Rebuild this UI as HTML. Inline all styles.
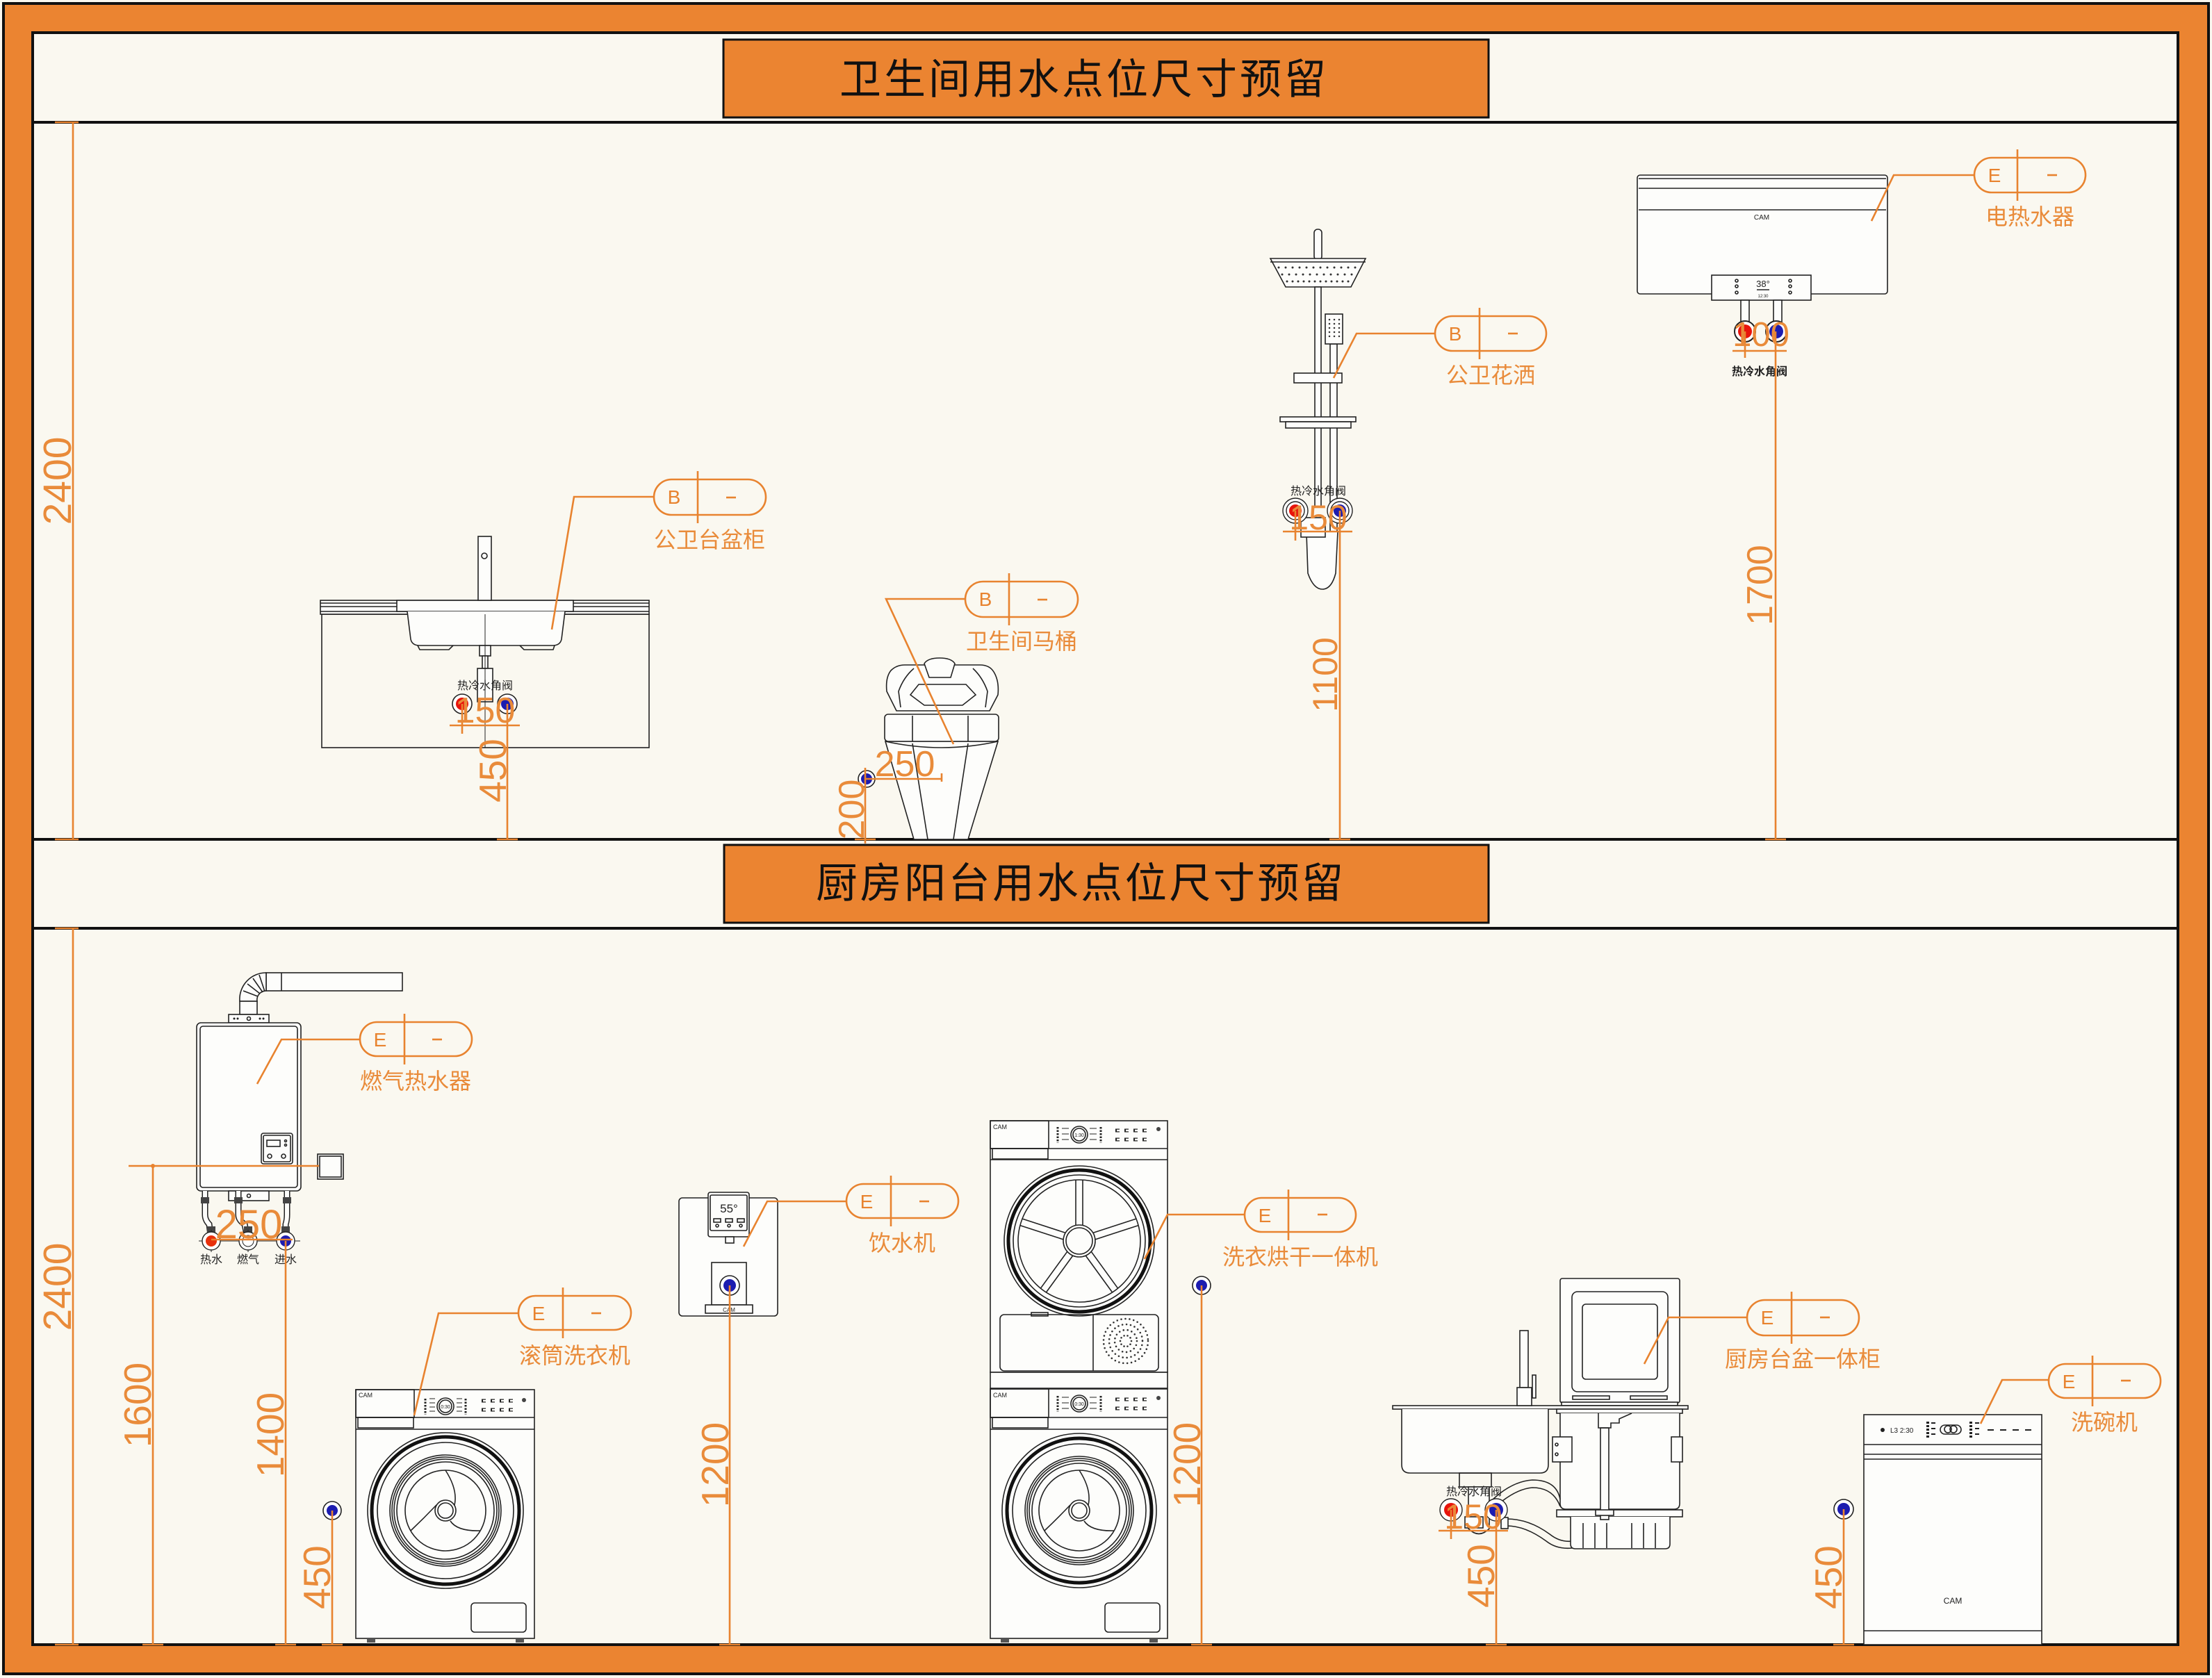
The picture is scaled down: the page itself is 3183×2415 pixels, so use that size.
<!DOCTYPE html>
<html><head><meta charset="utf-8">
<style>
html,body{margin:0;padding:0;background:#faf8f0;}
svg{display:block;}
</style></head>
<body>
<svg xmlns="http://www.w3.org/2000/svg" width="3183" height="2415" viewBox="0 0 3183 2415">
<defs>
<style>
.o{stroke:#E8832F;stroke-width:2.6;fill:none}
.k{stroke:#222;stroke-width:1.6;fill:none}
.kw{stroke:#222;stroke-width:1.6;fill:#fdfdfb}
.d{font-family:"Liberation Sans",sans-serif;fill:#E98B3A}
.l{font-family:"Liberation Sans","Noto Sans CJK SC",sans-serif;fill:#E98B3A;font-size:32px}
.t{font-family:"Liberation Sans","Noto Sans CJK SC",sans-serif;fill:#111;font-size:60px}
.s{font-family:"Liberation Sans","Noto Sans CJK SC",sans-serif;fill:#222;font-size:16px}
.tg{font-family:"Liberation Sans",sans-serif;fill:#E8832F;font-size:28px}
.c{font-family:"Liberation Sans",sans-serif;fill:#222}
</style>
</defs>

<!-- frame -->
<rect x="0" y="0" width="3183" height="2415" fill="#faf8f0"/>
<rect x="5" y="5" width="3173" height="2404" fill="#EB8431" stroke="#111" stroke-width="4"/>
<rect x="47" y="47" width="3087" height="2320" fill="#FAF8F0" stroke="#111" stroke-width="4"/>
<line x1="47" y1="176" x2="3134" y2="176" stroke="#111" stroke-width="4"/>
<line x1="47" y1="1208" x2="3134" y2="1208" stroke="#111" stroke-width="4"/>
<line x1="47" y1="1336" x2="3134" y2="1336" stroke="#111" stroke-width="4"/>

<!-- titles -->
<rect x="1041" y="57" width="1101" height="112" fill="#EB8431" stroke="#111" stroke-width="3"/>
<text class="t" x="1208" y="135" textLength="700" lengthAdjust="spacing">卫生间用水点位尺寸预留</text>
<rect x="1042" y="1216" width="1100" height="112" fill="#EB8431" stroke="#111" stroke-width="3"/>
<text class="t" x="1174" y="1292" textLength="759" lengthAdjust="spacing">厨房阳台用水点位尺寸预留</text>

<!-- 2400 dims -->
<line class="o" x1="105" y1="176" x2="105" y2="1208"/>
<line class="o" x1="79" y1="176" x2="113" y2="176"/>
<line class="o" x1="79" y1="1208" x2="113" y2="1208"/>
<text class="d" font-size="57" text-anchor="middle" transform="translate(102,692) rotate(-90)">2400</text>
<line class="o" x1="105" y1="1336" x2="105" y2="2367"/>
<line class="o" x1="79" y1="1336" x2="113" y2="1336"/>
<line class="o" x1="79" y1="2367" x2="113" y2="2367"/>
<text class="d" font-size="57" text-anchor="middle" transform="translate(102,1852) rotate(-90)">2400</text>

<!-- ================= SECTION 1 ================= -->

<!-- Washbasin cabinet -->
<g>
<rect class="k" x="463" y="884" width="471" height="192"/>
<rect class="kw" x="461" y="864" width="473" height="20"/>
<line class="k" x1="461" y1="868" x2="934" y2="868"/>
<line class="k" x1="461" y1="873" x2="934" y2="873"/>
<line class="k" x1="461" y1="880" x2="934" y2="880"/>
<rect class="kw" x="571" y="864" width="254" height="16"/>
<path class="kw" d="M586,880 L591,920 Q593,929 604,929 L795,929 Q806,929 808,920 L813,880"/>
<path class="k" d="M601,929 L604,935 L646,935 L652,929 M748,929 L754,935 L796,935 L798,929"/>
<rect class="kw" x="688" y="772" width="19" height="92"/>
<circle class="k" cx="697" cy="800" r="4"/>
<rect class="kw" x="690" y="929" width="16" height="15"/>
<rect class="kw" x="694" y="944" width="8" height="18"/>
<rect class="kw" x="687" y="962" width="22" height="48"/>
<line x1="698" y1="884" x2="698" y2="1076" stroke="#222" stroke-width="1"/>
<text class="s" x="698" y="992" text-anchor="middle" font-size="16">热冷水角阀</text>
<circle cx="665" cy="1013" r="14" fill="#fff" stroke="#222" stroke-width="1.6"/><circle cx="665" cy="1013" r="9" fill="#E8140C"/>
<circle cx="730" cy="1013" r="14" fill="#fff" stroke="#222" stroke-width="1.6"/><circle cx="730" cy="1013" r="9" fill="#1C1CB0"/>
</g>
<line class="o" x1="647" y1="1044" x2="748" y2="1044"/>
<line class="o" x1="665" y1="1013" x2="665" y2="1056"/>
<line class="o" x1="730" y1="1013" x2="730" y2="1208"/>
<text class="d" font-size="52" x="698" y="1040" text-anchor="middle">150</text>
<text class="d" font-size="55" text-anchor="middle" transform="translate(728,1109) rotate(-90)">450</text>

<!-- Toilet -->
<g>
<path class="kw" d="M1274,1067 L1315,1208 L1393,1208 L1436,1067 Z"/>
<path class="k" d="M1313,1070 L1335,1208 M1393,1070 L1372,1208"/>
<path class="k" d="M1274,1067 Q1355,1085 1436,1067"/>
<rect class="kw" x="1273" y="1028" width="164" height="39" rx="5"/>
<path class="k" d="M1313,1030 L1313,1067 M1393,1030 L1393,1067"/>
<path class="kw" d="M1290,1023 L1276,995 Q1274,975 1282,965 Q1290,957 1302,957 L1410,957 Q1424,957 1430,967 Q1438,980 1436,1000 L1424,1023 Z"/>
<path class="k" d="M1296,1018 L1293,995 Q1300,975 1315,962 M1418,1018 L1421,995 Q1414,975 1400,962"/>
<path class="k" d="M1310,1000 L1322,985 L1390,985 L1404,1000 L1385,1015 L1330,1015 Z"/>
<path class="kw" d="M1330,955 Q1335,947 1352,947 Q1369,947 1374,955 L1368,975 L1337,975 Z"/>
<circle cx="1247" cy="1121" r="12" fill="#fff" stroke="#222" stroke-width="1.6"/><circle cx="1247" cy="1121" r="8" fill="#1C1CB0"/>
</g>
<line class="o" x1="1245" y1="1121" x2="1355" y2="1121"/>
<line class="o" x1="1355" y1="1113" x2="1355" y2="1125"/>
<line class="o" x1="1245" y1="1105" x2="1245" y2="1214"/>
<text class="d" font-size="52" x="1302" y="1117" text-anchor="middle">250</text>
<text class="d" font-size="52" text-anchor="middle" transform="translate(1243,1165) rotate(-90)">200</text>

<!-- Shower -->
<g>
<rect class="kw" x="1891" y="330" width="11" height="44" rx="5"/>
<path class="kw" d="M1828,372 L1965,372 L1944,413 L1850,413 Z"/>
<line class="k" x1="1828" y1="377" x2="1965" y2="377"/>
<line x1="1840" y1="385" x2="1955" y2="385" stroke="#333" stroke-width="3" stroke-linecap="round" stroke-dasharray="0 10"/>
<line x1="1845" y1="395" x2="1950" y2="395" stroke="#333" stroke-width="3" stroke-linecap="round" stroke-dasharray="0 10"/>
<line x1="1852" y1="405" x2="1943" y2="405" stroke="#333" stroke-width="3" stroke-linecap="round" stroke-dasharray="0 8"/>
<rect class="kw" x="1892" y="413" width="9" height="317"/>
<rect class="kw" x="1914" y="495" width="10" height="270"/>
<rect class="kw" x="1907" y="452" width="25" height="43"/>
<line x1="1913" y1="460" x2="1913" y2="488" stroke="#333" stroke-width="2.5" stroke-linecap="round" stroke-dasharray="0 6"/>
<line x1="1920" y1="460" x2="1920" y2="488" stroke="#333" stroke-width="2.5" stroke-linecap="round" stroke-dasharray="0 6"/>
<line x1="1927" y1="460" x2="1927" y2="488" stroke="#333" stroke-width="2.5" stroke-linecap="round" stroke-dasharray="0 6"/>
<rect class="kw" x="1862" y="537" width="69" height="14"/>
<rect class="kw" x="1842" y="600" width="109" height="7"/>
<rect class="kw" x="1850" y="607" width="94" height="9"/>
<path class="kw" d="M1880,768 L1882,825 Q1890,848 1903,848 Q1916,848 1922,825 L1925,765"/>
<rect class="kw" x="1872" y="745" width="35" height="28"/>
<text class="s" x="1897" y="712" text-anchor="middle" font-size="16" fill="#444">热冷水角阀</text>
<circle cx="1864" cy="735" r="18" fill="#fff" stroke="#222" stroke-width="1.4"/><circle cx="1864" cy="735" r="13" fill="#fff" stroke="#222" stroke-width="1.4"/><circle cx="1864" cy="735" r="9" fill="#E8140C"/>
<circle cx="1928" cy="735" r="18" fill="#fff" stroke="#222" stroke-width="1.4"/><circle cx="1928" cy="735" r="13" fill="#fff" stroke="#222" stroke-width="1.4"/><circle cx="1928" cy="735" r="9" fill="#1C1CB0"/>
</g>
<line class="o" x1="1846" y1="765" x2="1946" y2="765"/>
<line class="o" x1="1864" y1="735" x2="1864" y2="778"/>
<line class="o" x1="1928" y1="735" x2="1928" y2="1208"/>
<text class="d" font-size="50" x="1897" y="762" text-anchor="middle">150</text>
<text class="d" font-size="50" text-anchor="middle" transform="translate(1924,971) rotate(-90)">1100</text>

<!-- Electric water heater -->
<g>
<rect class="kw" x="2356" y="252" width="360" height="171" rx="4"/>
<line class="k" x1="2358" y1="257" x2="2714" y2="257"/>
<line class="k" x1="2358" y1="271" x2="2714" y2="271"/>
<line class="k" x1="2358" y1="302" x2="2714" y2="302"/>
<text class="c" x="2535" y="316" font-size="10" text-anchor="middle">CAM</text>
<rect class="kw" x="2463" y="396" width="143" height="36"/>
<text class="c" x="2537" y="413" font-size="13" text-anchor="middle">38°</text>
<line class="k" x1="2528" y1="417" x2="2546" y2="417" stroke-width="1"/>
<text class="c" x="2537" y="428" font-size="6" text-anchor="middle">12:30</text>
<circle class="k" cx="2499" cy="404" r="2" stroke-width="1"/><circle class="k" cx="2499" cy="412" r="2" stroke-width="1"/><circle class="k" cx="2499" cy="421" r="2" stroke-width="1"/>
<circle class="k" cx="2576" cy="404" r="2" stroke-width="1"/><circle class="k" cx="2576" cy="412" r="2" stroke-width="1"/><circle class="k" cx="2576" cy="421" r="2" stroke-width="1"/>
<rect class="kw" x="2505" y="432" width="12" height="35"/>
<rect class="kw" x="2552" y="432" width="12" height="35"/>
<circle cx="2511" cy="477" r="15" fill="#fff" stroke="#222" stroke-width="2"/><circle cx="2511" cy="477" r="10" fill="#E8140C"/>
<circle cx="2556" cy="477" r="15" fill="#fff" stroke="#222" stroke-width="2"/><circle cx="2556" cy="477" r="10" fill="#1C1CB0"/>
<text class="s" x="2532" y="540" text-anchor="middle" font-size="16" font-weight="bold" fill="#111">热冷水角阀</text>
</g>
<line class="o" x1="2493" y1="505" x2="2571" y2="505"/>
<line class="o" x1="2511" y1="477" x2="2511" y2="515"/>
<line class="o" x1="2555" y1="477" x2="2555" y2="1208"/>
<text class="d" font-size="49" x="2534" y="498" text-anchor="middle">100</text>
<text class="d" font-size="52" text-anchor="middle" transform="translate(2550,842) rotate(-90)">1700</text>

<!-- ================= SECTION 2 ================= -->

<!-- Gas water heater -->
<g>
<rect class="kw" x="383" y="1400" width="196" height="26"/>
<line class="k" x1="405" y1="1400" x2="405" y2="1426"/>
<path class="kw" d="M345,1441 A38,38 0 0 1 383,1400 L383,1426 A13,13 0 0 0 370,1441 Z"/>
<path class="k" stroke-width="1" d="M350,1426 L371,1434 M356,1416 L374,1430 M364,1408 L378,1428 M373,1403 L381,1427"/>
<rect class="kw" x="345" y="1441" width="25" height="19"/>
<rect class="kw" x="329" y="1460" width="58" height="12"/>
<circle cx="337" cy="1466" r="1.5" fill="#222"/><circle cx="342" cy="1466" r="1.5" fill="#222"/><circle cx="358" cy="1466" r="2.5" class="k" stroke-width="1"/><circle cx="374" cy="1466" r="1.5" fill="#222"/><circle cx="379" cy="1466" r="1.5" fill="#222"/>
<rect class="kw" x="283" y="1472" width="150" height="242" rx="6"/>
<rect class="k" x="288" y="1477" width="140" height="232" rx="4"/>
<rect class="kw" x="376" y="1631" width="45" height="44" rx="3"/>
<rect class="k" x="379" y="1634" width="39" height="38" rx="2"/>
<rect class="k" x="384" y="1641" width="19" height="9" stroke-width="1"/>
<circle class="k" cx="411" cy="1642" r="1.5" stroke-width="1"/><circle class="k" cx="411" cy="1648" r="1.5" stroke-width="1"/>
<circle class="k" cx="388" cy="1664" r="3" stroke-width="1"/><circle class="k" cx="408" cy="1664" r="3" stroke-width="1"/>
<rect class="kw" x="457" y="1661" width="37" height="36"/>
<rect class="k" x="460" y="1664" width="31" height="30" stroke-width="1"/>
<rect class="kw" x="329" y="1714" width="58" height="14"/>
<circle cx="358" cy="1721" r="2.5" class="k" stroke-width="1"/>
<path d="M295,1714 L295,1748 Q295,1756 301,1762 L304,1786" stroke="#222" stroke-width="9" fill="none"/>
<path d="M295,1714 L295,1748 Q295,1756 301,1762 L304,1786" stroke="#fdfdfb" stroke-width="6" fill="none"/>
<path d="M343,1714 L343,1748 Q343,1756 352,1762 L357,1786" stroke="#222" stroke-width="9" fill="none"/>
<path d="M343,1714 L343,1748 Q343,1756 352,1762 L357,1786" stroke="#fdfdfb" stroke-width="6" fill="none"/>
<path d="M413,1714 L413,1748 Q413,1756 411,1762 L411,1786" stroke="#222" stroke-width="9" fill="none"/>
<path d="M413,1714 L413,1748 Q413,1756 411,1762 L411,1786" stroke="#fdfdfb" stroke-width="6" fill="none"/>
<rect x="289" y="1723" width="12" height="9" fill="#444"/><rect x="337" y="1723" width="12" height="9" fill="#444"/><rect x="407" y="1723" width="12" height="9" fill="#444"/>
<rect x="298" y="1765" width="12" height="9" fill="#444"/><rect x="351" y="1765" width="12" height="9" fill="#444"/><rect x="405" y="1765" width="12" height="9" fill="#444"/>
<line x1="286" y1="1786" x2="432" y2="1786" stroke="#222" stroke-width="1"/>
<line x1="304" y1="1770" x2="304" y2="1802" stroke="#222" stroke-width="1"/>
<line x1="357" y1="1770" x2="357" y2="1802" stroke="#222" stroke-width="1"/>
<circle cx="304" cy="1786" r="13" fill="#fff" stroke="#222" stroke-width="1.4"/><circle cx="304" cy="1786" r="8" fill="#E8300C"/>
<circle cx="357" cy="1786" r="13" fill="#fff" stroke="#222" stroke-width="1.4"/><circle cx="357" cy="1786" r="8" fill="#fff" stroke="#222" stroke-width="1"/>
<circle cx="411" cy="1786" r="13" fill="#fff" stroke="#222" stroke-width="1.4"/><circle cx="411" cy="1786" r="8" fill="#1C1CB0"/>
<text class="s" x="304" y="1818" text-anchor="middle" font-size="17">热水</text>
<text class="s" x="357" y="1818" text-anchor="middle" font-size="17">燃气</text>
<text class="s" x="411" y="1818" text-anchor="middle" font-size="17">进水</text>
</g>
<line class="o" x1="185" y1="1678" x2="459" y2="1678"/>
<circle cx="220" cy="1678" r="3" fill="#E8832F"/>
<line class="o" x1="220" y1="1678" x2="220" y2="2367"/>
<text class="d" font-size="55" text-anchor="middle" transform="translate(217,2022) rotate(-90)">1600</text>
<line class="o" x1="304" y1="1784" x2="421" y2="1784"/>
<line class="o" x1="411" y1="1786" x2="411" y2="2367"/>
<text class="d" font-size="58" x="358" y="1782" text-anchor="middle">250</text>
<text class="d" font-size="55" text-anchor="middle" transform="translate(408,2065) rotate(-90)">1400</text>

<!-- Front-load washer (left) -->
<g>
<rect class="kw" x="512" y="2000" width="257" height="358"/>
<line class="k" x1="512" y1="2040" x2="769" y2="2040"/>
<line class="k" x1="512" y1="2057" x2="769" y2="2057"/>
<rect class="k" x="512" y="2000" width="84" height="40"/>
<rect class="k" x="515" y="2040" width="80" height="15"/>
<text class="c" x="516" y="2011" font-size="9">CAM</text>
<circle class="kw" cx="641" cy="2024" r="12"/><circle class="k" cx="641" cy="2024" r="9" stroke-width="1"/>
<text class="c" x="641" y="2027" font-size="7" text-anchor="middle">0:30</text>
<line x1="612" y1="2013" x2="612" y2="2036" stroke="#222" stroke-width="3" stroke-dasharray="2.5 2"/>
<line x1="618" y1="2013" x2="626" y2="2013" stroke="#222" stroke-width="1"/><line x1="618" y1="2019" x2="626" y2="2019" stroke="#222" stroke-width="1"/><line x1="618" y1="2025" x2="626" y2="2025" stroke="#222" stroke-width="1"/><line x1="618" y1="2031" x2="626" y2="2031" stroke="#222" stroke-width="1"/>
<line x1="670" y1="2013" x2="670" y2="2036" stroke="#222" stroke-width="3" stroke-dasharray="2.5 2"/>
<line x1="657" y1="2013" x2="665" y2="2013" stroke="#222" stroke-width="1"/><line x1="657" y1="2019" x2="665" y2="2019" stroke="#222" stroke-width="1"/><line x1="657" y1="2025" x2="665" y2="2025" stroke="#222" stroke-width="1"/><line x1="657" y1="2031" x2="665" y2="2031" stroke="#222" stroke-width="1"/>
<line x1="693" y1="2016" x2="743" y2="2016" stroke="#222" stroke-width="5" stroke-dasharray="6 7"/>
<line x1="693" y1="2029" x2="743" y2="2029" stroke="#222" stroke-width="5" stroke-dasharray="6 7"/>
<line x1="694" y1="2016" x2="742" y2="2016" stroke="#fdfdfb" stroke-width="2.5" stroke-dasharray="4 9" stroke-dashoffset="-1"/>
<line x1="694" y1="2029" x2="742" y2="2029" stroke="#fdfdfb" stroke-width="2.5" stroke-dasharray="4 9" stroke-dashoffset="-1"/>
<circle cx="754" cy="2015" r="3" fill="#444"/>
<circle class="k" cx="641" cy="2174" r="112" stroke-width="1.2"/>
<circle cx="641" cy="2174" r="106" fill="none" stroke="#111" stroke-width="5"/>
<circle class="k" cx="641" cy="2174" r="98" stroke-width="1"/>
<circle class="k" cx="641" cy="2174" r="80"/>
<circle class="k" cx="641" cy="2174" r="77" stroke-width="1"/>
<circle class="k" cx="641" cy="2174" r="74" stroke-width="1"/>
<circle class="k" cx="641" cy="2174" r="70" stroke-width="1"/>
<circle class="k" cx="641" cy="2174" r="58"/>
<circle class="k" cx="641" cy="2174" r="15"/>
<circle class="k" cx="641" cy="2174" r="11" stroke-width="1"/>
<path class="k" stroke-width="1.2" d="M641,2116 Q659,2144 654,2166 M691,2203 Q658,2204 648,2189 M591,2203 Q610,2185 628,2166"/>
<rect class="k" x="678" y="2307" width="79" height="42" rx="5"/>
<rect x="528" y="2358" width="12" height="6" fill="#555"/><rect x="742" y="2358" width="12" height="6" fill="#555"/>
<circle cx="478" cy="2174" r="13" fill="#fff" stroke="#222" stroke-width="1.6"/><circle cx="478" cy="2174" r="8" fill="#1C1CB0"/>
</g>
<line class="o" x1="478" y1="2174" x2="478" y2="2367"/>
<text class="d" font-size="55" text-anchor="middle" transform="translate(475,2270) rotate(-90)">450</text>

<!-- Water dispenser -->
<g>
<rect class="kw" x="977" y="1724" width="142" height="170" rx="5"/>
<rect class="kw" x="1019" y="1716" width="59" height="64" rx="3"/>
<rect class="k" x="1022" y="1720" width="53" height="51" rx="2" stroke-width="1"/>
<text class="c" x="1049" y="1745" font-size="17" text-anchor="middle">55°</text>
<rect class="k" x="1027" y="1754" width="10" height="5" stroke-width="1"/><rect class="k" x="1044" y="1754" width="10" height="5" stroke-width="1"/><rect class="k" x="1061" y="1754" width="10" height="5" stroke-width="1"/>
<circle class="k" cx="1032" cy="1764" r="2" stroke-width="1"/><circle class="k" cx="1049" cy="1764" r="2" stroke-width="1"/><circle class="k" cx="1066" cy="1764" r="2" stroke-width="1"/>
<rect class="kw" x="1044" y="1780" width="12" height="9"/>
<rect class="k" x="1024" y="1817" width="50" height="61"/>
<rect class="kw" x="1015" y="1878" width="68" height="12"/>
<text class="c" x="1049" y="1888" font-size="8" text-anchor="middle">CAM</text>
<circle cx="1050" cy="1850" r="14" fill="#fff" stroke="#222" stroke-width="1.6"/><circle cx="1050" cy="1850" r="9" fill="#1C1CB0"/>
</g>
<line class="o" x1="1050" y1="1850" x2="1050" y2="2367"/>
<text class="d" font-size="55" text-anchor="middle" transform="translate(1048,2108) rotate(-90)">1200</text>

<!-- Washer-dryer stack -->
<g>
<!-- upper dryer -->
<rect class="kw" x="1425" y="1613" width="255" height="362"/>
<line class="k" x1="1425" y1="1653" x2="1680" y2="1653"/>
<line class="k" x1="1425" y1="1669" x2="1680" y2="1669"/>
<rect class="k" x="1425" y="1613" width="84" height="40"/>
<rect class="k" x="1428" y="1653" width="80" height="15"/>
<text class="c" x="1429" y="1625" font-size="9">CAM</text>
<circle class="kw" cx="1553" cy="1633" r="12"/><circle class="k" cx="1553" cy="1633" r="9" stroke-width="1"/>
<text class="c" x="1553" y="1636" font-size="7" text-anchor="middle">1:30</text>
<line x1="1522" y1="1622" x2="1522" y2="1645" stroke="#222" stroke-width="3" stroke-dasharray="2.5 2"/>
<line x1="1584" y1="1622" x2="1584" y2="1645" stroke="#222" stroke-width="3" stroke-dasharray="2.5 2"/>
<line x1="1528" y1="1624" x2="1538" y2="1624" stroke="#222"/><line x1="1528" y1="1632" x2="1538" y2="1632" stroke="#222"/><line x1="1528" y1="1640" x2="1538" y2="1640" stroke="#222"/>
<line x1="1568" y1="1624" x2="1578" y2="1624" stroke="#222"/><line x1="1568" y1="1632" x2="1578" y2="1632" stroke="#222"/><line x1="1568" y1="1640" x2="1578" y2="1640" stroke="#222"/>
<line x1="1605" y1="1627" x2="1655" y2="1627" stroke="#222" stroke-width="5" stroke-dasharray="6 7"/>
<line x1="1605" y1="1640" x2="1655" y2="1640" stroke="#222" stroke-width="5" stroke-dasharray="6 7"/>
<line x1="1606" y1="1627" x2="1654" y2="1627" stroke="#fdfdfb" stroke-width="2.5" stroke-dasharray="4 9" stroke-dashoffset="-1"/>
<line x1="1606" y1="1640" x2="1654" y2="1640" stroke="#fdfdfb" stroke-width="2.5" stroke-dasharray="4 9" stroke-dashoffset="-1"/>
<circle cx="1667" cy="1625" r="3" fill="#444"/>
<circle class="k" cx="1553" cy="1786" r="108" stroke-width="1.2"/>
<circle cx="1553" cy="1786" r="102" fill="none" stroke="#111" stroke-width="5"/>
<circle class="k" cx="1553" cy="1786" r="95" stroke-width="1"/>
<circle class="k" cx="1553" cy="1786" r="88" stroke-width="1.2"/>
<circle class="k" cx="1553" cy="1786" r="23"/>
<circle class="k" cx="1553" cy="1786" r="19" stroke-width="1"/>
<path class="k" stroke-width="1.2" d="M1548,1763 L1548,1698 M1558,1763 L1558,1698 M1576.4,1783.7 L1638.2,1763.6 M1573.4,1774.1 L1635.2,1754 M1562.5,1807.5 L1600.7,1860.1 M1570.5,1801.7 L1608.7,1854.3 M1535.5,1801.7 L1497.3,1854.3 M1543.5,1807.5 L1505.3,1860.1 M1532.6,1774.1 L1470.8,1754 M1529.6,1783.7 L1467.8,1763.6"/>
<rect class="k" x="1439" y="1892" width="228" height="81" rx="6"/>
<line class="k" x1="1573" y1="1892" x2="1573" y2="1973"/>
<rect class="k" x="1484" y="1889" width="24" height="5" stroke-width="1"/>
<circle cx="1620" cy="1930" r="8" fill="none" stroke="#333" stroke-width="2.6" stroke-linecap="round" stroke-dasharray="0 5"/>
<circle cx="1620" cy="1930" r="16" fill="none" stroke="#333" stroke-width="2.6" stroke-linecap="round" stroke-dasharray="0 6"/>
<circle cx="1620" cy="1930" r="24" fill="none" stroke="#333" stroke-width="2.6" stroke-linecap="round" stroke-dasharray="0 6"/>
<circle cx="1620" cy="1930" r="32" fill="none" stroke="#333" stroke-width="2.6" stroke-linecap="round" stroke-dasharray="0 6"/>
<rect class="kw" x="1425" y="1975" width="255" height="23"/>
<!-- lower washer -->
<rect class="kw" x="1425" y="1999" width="255" height="359"/>
<line class="k" x1="1425" y1="2040" x2="1680" y2="2040"/>
<line class="k" x1="1425" y1="2057" x2="1680" y2="2057"/>
<rect class="k" x="1425" y="1999" width="84" height="41"/>
<rect class="k" x="1428" y="2040" width="80" height="15"/>
<text class="c" x="1429" y="2011" font-size="9">CAM</text>
<circle class="kw" cx="1553" cy="2020" r="12"/><circle class="k" cx="1553" cy="2020" r="9" stroke-width="1"/>
<text class="c" x="1553" y="2023" font-size="7" text-anchor="middle">0:30</text>
<line x1="1522" y1="2009" x2="1522" y2="2032" stroke="#222" stroke-width="3" stroke-dasharray="2.5 2"/>
<line x1="1584" y1="2009" x2="1584" y2="2032" stroke="#222" stroke-width="3" stroke-dasharray="2.5 2"/>
<line x1="1528" y1="2011" x2="1538" y2="2011" stroke="#222"/><line x1="1528" y1="2019" x2="1538" y2="2019" stroke="#222"/><line x1="1528" y1="2027" x2="1538" y2="2027" stroke="#222"/>
<line x1="1568" y1="2011" x2="1578" y2="2011" stroke="#222"/><line x1="1568" y1="2019" x2="1578" y2="2019" stroke="#222"/><line x1="1568" y1="2027" x2="1578" y2="2027" stroke="#222"/>
<line x1="1605" y1="2014" x2="1655" y2="2014" stroke="#222" stroke-width="5" stroke-dasharray="6 7"/>
<line x1="1605" y1="2027" x2="1655" y2="2027" stroke="#222" stroke-width="5" stroke-dasharray="6 7"/>
<line x1="1606" y1="2014" x2="1654" y2="2014" stroke="#fdfdfb" stroke-width="2.5" stroke-dasharray="4 9" stroke-dashoffset="-1"/>
<line x1="1606" y1="2027" x2="1654" y2="2027" stroke="#fdfdfb" stroke-width="2.5" stroke-dasharray="4 9" stroke-dashoffset="-1"/>
<circle cx="1667" cy="2012" r="3" fill="#444"/>
<circle class="k" cx="1553" cy="2174" r="111" stroke-width="1.2"/>
<circle cx="1553" cy="2174" r="104" fill="none" stroke="#111" stroke-width="5"/>
<circle class="k" cx="1553" cy="2174" r="96" stroke-width="1"/>
<circle class="k" cx="1553" cy="2174" r="78"/>
<circle class="k" cx="1553" cy="2174" r="75" stroke-width="1"/>
<circle class="k" cx="1553" cy="2174" r="72" stroke-width="1"/>
<circle class="k" cx="1553" cy="2174" r="68" stroke-width="1"/>
<circle class="k" cx="1553" cy="2174" r="58"/>
<circle class="k" cx="1553" cy="2174" r="15"/>
<circle class="k" cx="1553" cy="2174" r="11" stroke-width="1"/>
<path class="k" stroke-width="1.2" d="M1553,2116 Q1571,2144 1566,2166 M1603,2203 Q1570,2204 1560,2189 M1503,2203 Q1522,2185 1540,2166"/>
<rect class="k" x="1590" y="2307" width="79" height="42" rx="5"/>
<rect x="1440" y="2358" width="12" height="6" fill="#555"/><rect x="1654" y="2358" width="12" height="6" fill="#555"/>
<circle cx="1729" cy="1850" r="13" fill="#fff" stroke="#222" stroke-width="1.6"/><circle cx="1729" cy="1850" r="8" fill="#1C1CB0"/>
</g>
<line class="o" x1="1729" y1="1850" x2="1729" y2="2367"/>
<text class="d" font-size="55" text-anchor="middle" transform="translate(1727,2108) rotate(-90)">1200</text>

<!-- Kitchen sink + cabinet -->
<g>
<rect class="kw" x="2245" y="1840" width="172" height="179" rx="3"/>
<rect class="k" x="2262" y="1859" width="138" height="144" rx="8"/>
<rect class="k" x="2277" y="1877" width="108" height="108" rx="5"/>
<rect class="k" x="2263" y="2009" width="53" height="5"/>
<rect class="k" x="2346" y="2009" width="53" height="5"/>
<rect class="kw" x="2247" y="2018" width="167" height="5"/>
<rect class="kw" x="2004" y="2023" width="425" height="5"/>
<path class="kw" d="M2017,2028 L2017,2108 Q2017,2120 2029,2120 L2216,2120 Q2228,2120 2228,2108 L2228,2028"/>
<rect class="kw" x="2240" y="2028" width="181" height="6"/>
<path class="kw" d="M2245,2034 L2245,2164 Q2245,2172 2253,2172 L2409,2172 Q2417,2172 2417,2164 L2417,2034"/>
<path class="k" d="M2146,2160 Q2175,2132 2205,2130 Q2240,2130 2245,2158 M2150,2170 Q2180,2143 2205,2141 Q2235,2141 2245,2168"/>
<path class="k" d="M2168,2186 Q2200,2186 2230,2208 Q2245,2220 2262,2218 M2168,2196 Q2195,2196 2225,2218 Q2240,2230 2262,2228"/>
<rect class="kw" x="2240" y="2173" width="181" height="10"/>
<path class="kw" d="M2260,2183 L2260,2222 Q2260,2229 2267,2229 L2396,2229 Q2403,2229 2403,2222 L2403,2183"/>
<path class="k" d="M2278,2192 L2278,2228 M2295,2192 L2295,2228 M2312,2192 L2312,2228 M2348,2192 L2348,2228 M2365,2192 L2365,2228 M2382,2192 L2382,2228"/>
<rect class="kw" x="2303" y="2055" width="12" height="132"/>
<rect class="kw" x="2296" y="2173" width="26" height="8"/>
<path class="k" d="M2300,2034 L2300,2055 L2318,2055 L2318,2048 L2330,2048 L2330,2042 L2348,2034"/>
<rect class="kw" x="2234" y="2068" width="28" height="36"/>
<circle class="k" cx="2240" cy="2079" r="2" stroke-width="1"/><circle class="k" cx="2240" cy="2093" r="2" stroke-width="1"/>
<rect class="kw" x="2405" y="2068" width="16" height="36"/>
<rect class="kw" x="2187" y="1915" width="12" height="82"/>
<rect class="kw" x="2183" y="1997" width="21" height="26"/>
<rect class="kw" x="2205" y="1979" width="5" height="33"/>
<rect class="k" x="2100" y="2120" width="46" height="20"/>
<path class="kw" d="M2113,2140 L2113,2200 Q2128,2215 2143,2200 L2143,2140 Z"/>
<rect class="kw" x="2108" y="2183" width="26" height="16"/>
<rect class="kw" x="2160" y="2184" width="10" height="16"/>
<text class="s" x="2121" y="2152" text-anchor="middle" font-size="17">热冷水角阀</text>
<circle cx="2088" cy="2173" r="16" fill="#fff" stroke="#222" stroke-width="1.4"/><circle cx="2088" cy="2173" r="10" fill="#E8140C"/>
<circle cx="2153" cy="2173" r="16" fill="#fff" stroke="#222" stroke-width="1.4"/><circle cx="2153" cy="2173" r="10" fill="#1C1CB0"/>
</g>
<line class="o" x1="2070" y1="2203" x2="2170" y2="2203"/>
<line class="o" x1="2088" y1="2173" x2="2088" y2="2215"/>
<line class="o" x1="2153" y1="2173" x2="2153" y2="2367"/>
<text class="d" font-size="50" x="2120" y="2200" text-anchor="middle">150</text>
<text class="d" font-size="55" text-anchor="middle" transform="translate(2150,2268) rotate(-90)">450</text>

<!-- Dishwasher -->
<g>
<rect class="kw" x="2682" y="2036" width="256" height="331"/>
<line class="k" x1="2682" y1="2079" x2="2938" y2="2079"/>
<line class="k" x1="2682" y1="2093" x2="2938" y2="2093"/>
<line class="k" x1="2682" y1="2100" x2="2938" y2="2100"/>
<line class="k" x1="2682" y1="2347" x2="2938" y2="2347"/>
<circle cx="2709" cy="2058" r="3" fill="#222"/>
<text class="c" x="2720" y="2062" font-size="10">L3  2:30</text>
<line x1="2774" y1="2046" x2="2774" y2="2070" stroke="#222" stroke-width="4" stroke-dasharray="3 2"/>
<line x1="2779" y1="2048" x2="2785" y2="2048" stroke="#222" stroke-width="2"/><line x1="2779" y1="2056" x2="2785" y2="2056" stroke="#222" stroke-width="2"/><line x1="2779" y1="2064" x2="2785" y2="2064" stroke="#222" stroke-width="2"/>
<rect class="k" x="2792" y="2051" width="30" height="13" rx="6.5"/>
<circle class="k" cx="2803" cy="2057" r="5" stroke-width="1"/><circle class="k" cx="2811" cy="2057" r="5" stroke-width="1"/>
<line x1="2836" y1="2046" x2="2836" y2="2070" stroke="#222" stroke-width="4" stroke-dasharray="3 2"/>
<line x1="2842" y1="2048" x2="2848" y2="2048" stroke="#222" stroke-width="2"/><line x1="2842" y1="2056" x2="2848" y2="2056" stroke="#222" stroke-width="2"/><line x1="2842" y1="2064" x2="2848" y2="2064" stroke="#222" stroke-width="2"/>
<line x1="2860" y1="2058" x2="2932" y2="2058" stroke="#222" stroke-width="2" stroke-dasharray="9 9"/>
<text class="c" x="2810" y="2308" font-size="12" text-anchor="middle">CAM</text>
<circle cx="2653" cy="2172" r="14" fill="#fff" stroke="#222" stroke-width="1.6"/><circle cx="2653" cy="2172" r="9" fill="#1C1CB0"/>
</g>
<line class="o" x1="2653" y1="2172" x2="2653" y2="2367"/>
<text class="d" font-size="55" text-anchor="middle" transform="translate(2650,2270) rotate(-90)">450</text>

<!-- floor ticks -->
<g class="o">
<line x1="715" y1="1208" x2="745" y2="1208"/><line x1="1230" y1="1208" x2="1260" y2="1208"/>
<line x1="1913" y1="1208" x2="1943" y2="1208"/><line x1="2540" y1="1208" x2="2570" y2="1208"/>
<line x1="205" y1="2367" x2="235" y2="2367"/><line x1="396" y1="2367" x2="426" y2="2367"/>
<line x1="463" y1="2367" x2="493" y2="2367"/><line x1="1035" y1="2367" x2="1065" y2="2367"/>
<line x1="1714" y1="2367" x2="1744" y2="2367"/><line x1="2138" y1="2367" x2="2168" y2="2367"/>
<line x1="2638" y1="2367" x2="2668" y2="2367"/>
</g>

<!-- ================= TAGS ================= -->
<!-- 1 basin -->
<polyline class="o" points="794,906 826,715 941,715"/>
<rect class="o" x="941" y="690" width="161" height="51" rx="25.5"/>
<line class="o" x1="1004" y1="678" x2="1004" y2="753"/>
<text class="tg" x="970" y="725" text-anchor="middle">B</text>
<line class="o" x1="1045" y1="716" x2="1059" y2="716"/>
<text class="l" x="1021" y="788" text-anchor="middle">公卫台盆柜</text>

<!-- 2 toilet -->
<polyline class="o" points="1372,1071 1275,862 1389,862"/>
<rect class="o" x="1389" y="837" width="162" height="51" rx="25.5"/>
<line class="o" x1="1452" y1="825" x2="1452" y2="900"/>
<text class="tg" x="1418" y="872" text-anchor="middle">B</text>
<line class="o" x1="1493" y1="863" x2="1507" y2="863"/>
<text class="l" x="1470" y="934" text-anchor="middle">卫生间马桶</text>

<!-- 3 shower -->
<polyline class="o" points="1919,544 1952,480 2065,480"/>
<rect class="o" x="2065" y="455" width="160" height="50" rx="25"/>
<line class="o" x1="2129" y1="443" x2="2129" y2="517"/>
<text class="tg" x="2094" y="490" text-anchor="middle">B</text>
<line class="o" x1="2170" y1="480" x2="2184" y2="480"/>
<text class="l" x="2145" y="551" text-anchor="middle">公卫花洒</text>

<!-- 4 electric heater -->
<polyline class="o" points="2693,318 2725,252 2841,252"/>
<rect class="o" x="2841" y="227" width="160" height="50" rx="25"/>
<line class="o" x1="2903" y1="215" x2="2903" y2="289"/>
<text class="tg" x="2870" y="262" text-anchor="middle">E</text>
<line class="o" x1="2946" y1="252" x2="2960" y2="252"/>
<text class="l" x="2921" y="323" text-anchor="middle">电热水器</text>

<!-- 5 gas heater -->
<polyline class="o" points="370,1560 405,1496 518,1496"/>
<rect class="o" x="518" y="1471" width="161" height="49" rx="24.5"/>
<line class="o" x1="582" y1="1459" x2="582" y2="1532"/>
<text class="tg" x="547" y="1506" text-anchor="middle">E</text>
<line class="o" x1="622" y1="1496" x2="636" y2="1496"/>
<text class="l" x="598" y="1567" text-anchor="middle">燃气热水器</text>

<!-- 6 washer -->
<polyline class="o" points="596,2037 631,1890 746,1890"/>
<rect class="o" x="746" y="1865" width="162" height="49" rx="24.5"/>
<line class="o" x1="810" y1="1853" x2="810" y2="1926"/>
<text class="tg" x="775" y="1900" text-anchor="middle">E</text>
<line class="o" x1="851" y1="1890" x2="865" y2="1890"/>
<text class="l" x="827" y="1962" text-anchor="middle">滚筒洗衣机</text>

<!-- 7 dispenser -->
<polyline class="o" points="1070,1794 1104,1729 1218,1729"/>
<rect class="o" x="1218" y="1704" width="161" height="49" rx="24.5"/>
<line class="o" x1="1282" y1="1692" x2="1282" y2="1765"/>
<text class="tg" x="1247" y="1739" text-anchor="middle">E</text>
<line class="o" x1="1323" y1="1729" x2="1337" y2="1729"/>
<text class="l" x="1298" y="1800" text-anchor="middle">饮水机</text>

<!-- 8 washer-dryer -->
<polyline class="o" points="1647,1812 1680,1748 1791,1748"/>
<rect class="o" x="1791" y="1724" width="160" height="49" rx="24.5"/>
<line class="o" x1="1854" y1="1712" x2="1854" y2="1785"/>
<text class="tg" x="1820" y="1759" text-anchor="middle">E</text>
<line class="o" x1="1896" y1="1748" x2="1910" y2="1748"/>
<text class="l" x="1871" y="1820" text-anchor="middle">洗衣烘干一体机</text>

<!-- 9 kitchen -->
<polyline class="o" points="2366,1963 2401,1896 2514,1896"/>
<rect class="o" x="2514" y="1871" width="161" height="51" rx="25.5"/>
<line class="o" x1="2578" y1="1859" x2="2578" y2="1934"/>
<text class="tg" x="2543" y="1906" text-anchor="middle">E</text>
<line class="o" x1="2619" y1="1896" x2="2633" y2="1896"/>
<text class="l" x="2594" y="1967" text-anchor="middle">厨房台盆一体柜</text>

<!-- 10 dishwasher -->
<polyline class="o" points="2850,2049 2881,1986 2948,1986"/>
<rect class="o" x="2948" y="1963" width="161" height="49" rx="24.5"/>
<line class="o" x1="3011" y1="1951" x2="3011" y2="2024"/>
<text class="tg" x="2977" y="1998" text-anchor="middle">E</text>
<line class="o" x1="3052" y1="1987" x2="3066" y2="1987"/>
<text class="l" x="3028" y="2058" text-anchor="middle">洗碗机</text>

</svg>
</body></html>
